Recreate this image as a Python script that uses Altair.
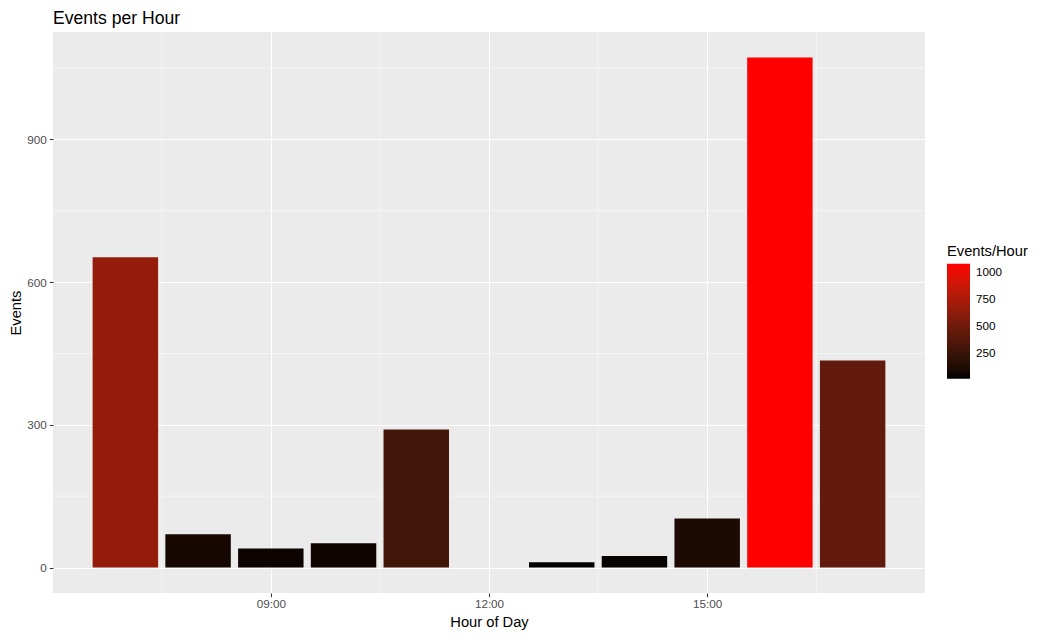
import altair as alt
import pandas as pd

hours = [7, 8, 9, 10, 11, 13, 14, 15, 16, 17]
events = [652, 70, 40, 51, 290, 11, 24, 103, 1072, 435]
x_ticks = [9, 12, 15]
y_ticks = [0, 300, 600, 900]
x_minor = [7.5, 10.5, 13.5, 16.5]
y_minor = [150, 450, 750, 1050]
legend_ticks = [250, 500, 750, 1000]

df = pd.DataFrame({"hour": hours, "events": events})
half = 0.45
span = (max(hours) + half) - (min(hours) - half)
xdom = [min(hours) - half - 0.05 * span, max(hours) + half + 0.05 * span]
ymax = max(events)
ydom = [-0.05 * ymax, 1.05 * ymax]

FONT = "Liberation Sans"
W, H = 872, 561

xscale = alt.Scale(domain=xdom, nice=False, zero=False)
yscale = alt.Scale(domain=ydom, nice=False, zero=False)

common_axis = dict(
    grid=True, gridColor="white", gridWidth=1.07, domain=False,
    tickColor="#333333", tickWidth=1.07, tickSize=3.7,
    labelColor="#4D4D4D", labelFontSize=11.7, labelFont=FONT,
    titleFont=FONT, titleFontSize=14.7, titleColor="black",
    titleFontWeight="normal",
)
xaxis = alt.Axis(values=x_ticks, labelExpr="format(datum.value,'02d') + ':00'",
                 title="Hour of Day", labelPadding=2, titlePadding=4, **common_axis)
yaxis = alt.Axis(values=y_ticks, title="Events", labelPadding=3, titlePadding=3,
                 **common_axis)

minor_x = alt.Chart(pd.DataFrame({"v": x_minor})).mark_rule(
    color="white", strokeWidth=0.53).encode(x=alt.X("v:Q", scale=xscale, axis=xaxis))
minor_y = alt.Chart(pd.DataFrame({"w": y_minor})).mark_rule(
    color="white", strokeWidth=0.53).encode(y=alt.Y("w:Q", scale=yscale, axis=yaxis))

bars = alt.Chart(df).transform_calculate(
    x0="datum.hour - 0.45", x1="datum.hour + 0.45", base="0"
).mark_rect().encode(
    x=alt.X("x0:Q", scale=xscale, axis=xaxis),
    x2="x1:Q",
    y=alt.Y("events:Q", scale=yscale, axis=yaxis),
    y2="base:Q",
    color=alt.Color(
        "events:Q",
        scale=alt.Scale(range=["#000000", "#ff0000"], interpolate="lab",
                        zero=False, nice=False),
        legend=alt.Legend(
            title="Events/Hour", values=legend_ticks, format="d", orient="none",
            legendX=894, legendY=212, gradientLength=115, gradientThickness=23,
            titleFontSize=14.7, titleFontWeight="normal", titleFont=FONT,
            titleColor="black", labelFont=FONT, labelFontSize=11.7,
            labelColor="black", labelOffset=6, titlePadding=5,
            gradientStrokeWidth=0, labelOverlap=False,
        ),
    ),
)

chart = alt.layer(minor_x, minor_y, bars).properties(
    width=W, height=H,
    padding={"left": 0, "top": 2, "right": 0, "bottom": 0},
    title=alt.Title("Events per Hour", anchor="start", fontSize=17.6,
                    fontWeight="normal", font=FONT, color="black",
                    offset=4, frame="group"),
).configure_view(fill="#EBEBEB", strokeWidth=0)

chart.save("out.html", embed_options={"renderer": "svg", "actions": False})
